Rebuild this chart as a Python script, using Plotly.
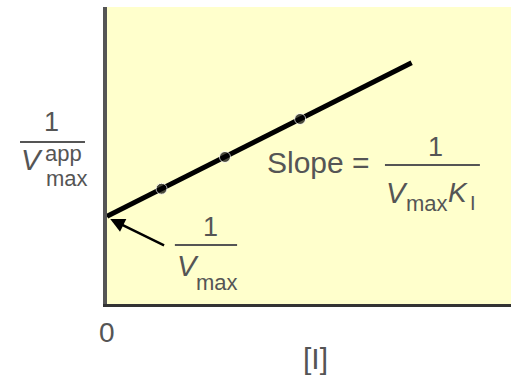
import plotly.graph_objects as go

# Reciprocal plot: 1/Vmax(app) against inhibitor concentration [I]
inhibitor = [0.0, 1.35, 2.92, 4.78, 7.54]
inv_vmax_app = [2.95, 3.88, 4.95, 6.23, 8.12]
marker_sizes = [0, 11, 11, 11, 0]

TXT = "#555555"
FONT = "Liberation Sans, Arial, sans-serif"

fig = go.Figure()
fig.add_trace(go.Scatter(
    x=inhibitor, y=inv_vmax_app, mode="lines+markers",
    line=dict(color="black", width=5),
    marker=dict(color="black", size=marker_sizes),
    hoverinfo="skip", showlegend=False,
))


def label(text, x, y, size=27, xanchor="center"):
    fig.add_annotation(text=text, x=x, y=y, xref="paper", yref="paper",
                       showarrow=False, xanchor=xanchor, yanchor="middle",
                       font=dict(family=FONT, size=size, color=TXT))


def bar(x0, x1, y):
    fig.add_shape(type="line", xref="paper", yref="paper",
                  x0=x0, x1=x1, y0=y, y1=y,
                  line=dict(color=TXT, width=2))


# y-axis label: 1 / V_max^app
label("1", -0.1386, 0.6128)
bar(-0.2153, -0.0545, 0.5455)
label("<i>V</i>", -0.1856, 0.4848, size=29)
label("app", -0.1089, 0.5084, size=22)
label("max", -0.099, 0.4242, size=22)

# intercept label: 1 / Vmax
label("1", 0.255, 0.259)
bar(0.168, 0.322, 0.199)
label("<i>V</i>", 0.2005, 0.128, size=29)
label("max", 0.272, 0.074, size=22)

# slope label: 1 / (Vmax KI)
label("Slope =", 0.656, 0.478, size=30, xanchor="right")
bar(0.688, 0.923, 0.468)
label("1", 0.812, 0.529)
label("<i>V</i>", 0.718, 0.374, size=29)
label("max", 0.792, 0.340, size=22)
label("<i>K</i>", 0.869, 0.374, size=28)
label("I", 0.906, 0.340, size=20)

# axis texts
label("0", 0.0, -0.0976, size=28)
label("[I]", 0.517, -0.182, size=30)

# arrow to the y-intercept
fig.add_annotation(x=0.08, y=2.86, ax=1.45, ay=1.95,
                   xref="x", yref="y", axref="x", ayref="y",
                   text="", showarrow=True, arrowhead=2, arrowsize=1.2,
                   arrowwidth=2.4, arrowcolor="black", standoff=0)

fig.update_xaxes(range=[0, 10], showgrid=False, zeroline=False,
                 showticklabels=False, ticks="", showline=True,
                 linecolor="#333333", linewidth=3, mirror=False)
fig.update_yaxes(range=[0, 10], showgrid=False, zeroline=False,
                 showticklabels=False, ticks="", showline=True,
                 linecolor="#555555", linewidth=4, mirror=False)

fig.update_layout(
    width=511, height=379,
    margin=dict(l=107, r=0, t=7, b=75),
    paper_bgcolor="white", plot_bgcolor="#FFFFCC",
    font=dict(family=FONT, color=TXT),
)

fig.write_html("out.html")
